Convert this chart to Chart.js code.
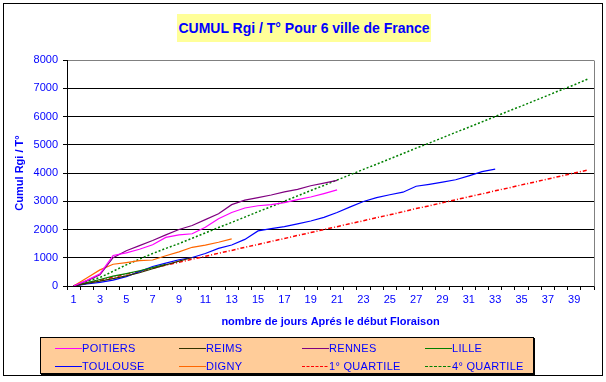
<!DOCTYPE html>
<html>
<head>
<meta charset="utf-8">
<script src="https://cdn.jsdelivr.net/npm/chart.js@4/dist/chart.umd.min.js"></script>
<style>
html,body{margin:0;padding:0;background:#fff;}
#wrap{position:relative;width:606px;height:382px;overflow:hidden;background:#fff;}
#frame{position:absolute;left:3px;top:3px;width:598px;height:371px;border:1px solid #000;}
#title{position:absolute;left:177px;top:14px;width:254px;height:28px;background:#FFFF99;color:#0000FF;
  font:bold 14px "Liberation Sans",Arial,sans-serif;text-align:center;line-height:28px;white-space:nowrap;}
#chart{position:absolute;left:0;top:0;}
#legend{position:absolute;left:40px;top:337px;width:492px;height:35px;background:#FFCC99;border:1px solid #000;box-shadow:1px 1px 0 #000;}
.li{position:absolute;height:14px;font:11px "Liberation Sans",Arial,sans-serif;color:#0000FF;line-height:14px;white-space:nowrap;letter-spacing:0.3px;}
.li svg{position:absolute;left:0;top:0;}
.li span{position:absolute;top:0;}
</style>
</head>
<body>
<div id="wrap">
  <div id="frame"></div>
  <div id="title">CUMUL Rgi / T° Pour 6 ville de France</div>
  <canvas id="chart" width="606" height="382"></canvas>
  <div id="legend"></div>
</div>
<script>
// ---- data ----
const days = ['1','2','3','4','5','6','7','8','9','10','11','12','13','14','15','16','17','18','19','20',
              '21','22','23','24','25','26','27','28','29','30','31','32','33','34','35','36','37','38','39','40'];
const yTicks = [0,1000,2000,3000,4000,5000,6000,7000,8000];

const poitiers = [0,200,430,1080,1170,1300,1460,1720,1810,1850,2080,2380,2600,2760,2840,2880,2950,3060,3150,3270,3400];
const reims    = [0,90,170,260,360,470,610,750,880,1010];
const rennes   = [0,180,400,1000,1250,1430,1610,1810,2000,2140,2350,2560,2880,3040,3130,3220,3330,3420,3550,3640,3740];
const lille    = [0,120,230,350,440,540,650,770];
const toulouse = [0,70,130,210,330,510,690,810,930,1010,1150,1330,1450,1650,1950,2030,2100,2200,2300,2430,
                  2600,2800,2990,3130,3230,3320,3530,3600,3680,3760,3900,4050,4140];
const digny    = [0,280,570,770,830,900,920,1070,1210,1370,1450,1550,1670];
const quartile1 = [0,100,200,310,420,520,630,740,840,950,1050,1160,1260,1370,1470,1580,1680,1790,1890,2000,
                   2100,2210,2310,2420,2520,2630,2740,2840,2950,3050,3160,3260,3370,3470,3580,3680,3790,3890,4000,4100];
const quartile4 = [0,170,300,520,750,950,1150,1330,1500,1690,1880,2070,2250,2440,2630,2810,3000,3190,3380,3560,
                   3750,3940,4130,4310,4500,4690,4880,5060,5250,5440,5620,5810,6000,6190,6370,6560,6750,6940,7120,7320];

const xTitle = 'nombre de jours Aprés le début Floraison';
const yTitle = 'Cumul Rgi / T°';

// ---- chart ----
Chart.defaults.font.family = '"Liberation Sans", Arial, sans-serif';
const FONT = {size: 11, family: '"Liberation Sans", Arial, sans-serif'};
const BFONT = {size: 11, weight: 'bold', family: '"Liberation Sans", Arial, sans-serif'};

const datasets = [
  {label:'POITIERS', data:poitiers, borderColor:'#FF00FF', borderWidth:1.2},
  {label:'REIMS', data:reims, borderColor:'#333300', borderWidth:1.2},
  {label:'RENNES', data:rennes, borderColor:'#800080', borderWidth:1.2},
  {label:'LILLE', data:lille, borderColor:'#008000', borderWidth:1.2},
  {label:'TOULOUSE', data:toulouse, borderColor:'#0000FF', borderWidth:1.2},
  {label:'DIGNY', data:digny, borderColor:'#FF6600', borderWidth:1.2},
  {label:'1° QUARTILE', data:quartile1, borderColor:'#FF0000', borderWidth:1.5, borderDash:[4,2,1,2]},
  {label:'4° QUARTILE', data:quartile4, borderColor:'#008000', borderWidth:1.5, borderDash:[2,2]}
];

const rightBorder = {
  id:'rightBorder',
  afterDraw(chart){
    const {ctx, chartArea:a} = chart;
    ctx.save();
    ctx.strokeStyle = '#808080';
    ctx.lineWidth = 1;
    ctx.beginPath();
    const x = Math.round(a.right) + 0.5;
    ctx.moveTo(x, Math.round(a.top)+0.5);
    ctx.lineTo(x, Math.round(a.bottom)+0.5);
    ctx.stroke();
    ctx.restore();
  }
};

new Chart(document.getElementById('chart'), {
  type:'line',
  data:{labels:days, datasets:datasets.map(d => Object.assign({fill:false, pointRadius:0, tension:0}, d))},
  options:{
    responsive:false, animation:false, devicePixelRatio:1,
    layout:{padding:{left:13, right:12, top:60, bottom:53.4}},
    plugins:{legend:{display:false}, title:{display:false}, tooltip:{enabled:false}},
    scales:{
      x:{
        type:'category', offset:true,
        grid:{offset:true, drawOnChartArea:false, drawTicks:true, tickLength:4, color:'#000', tickColor:'#000'},
        border:{color:'#000', width:1},
        ticks:{autoSkip:false, maxRotation:0, minRotation:0, color:'#0000FF', font:FONT, padding:3,
               callback:(v,i) => (i % 2 === 0 ? days[i] : '')},
        title:{display:true, text:xTitle, color:'#0000FF', font:BFONT, padding:0},
        afterFit:(s) => { s.height = 42.6; }
      },
      y:{
        min:yTicks[0], max:yTicks[yTicks.length-1],
        afterBuildTicks:(s) => { s.ticks = yTicks.map(v => ({value:v})); },
        ticks:{color:'#0000FF', font:FONT, padding:5, callback:(v) => String(v)},
        grid:{color:(c) => (c.tick && c.tick.value === 8000 ? '#808080' : '#000'), tickLength:4, drawTicks:true, tickColor:'#000'},
        border:{color:'#000', width:1},
        title:{display:true, text:yTitle, color:'#0000FF', font:BFONT, padding:0},
        afterFit:(s) => { s.width = 54; }
      }
    }
  },
  plugins:[rightBorder]
});

// ---- legend (HTML, from datasets) ----
const legend = document.getElementById('legend');
const colX = [14, 138, 261, 384];   // relative to legend box
const rowY = [3, 21];
datasets.forEach((d, i) => {
  const col = i % 4, row = Math.floor(i / 4);
  const el = document.createElement('div');
  el.className = 'li';
  el.style.left = colX[col] + 'px';
  el.style.top = rowY[row] + 'px';
  el.style.width = '120px';
  const dash = d.borderDash ? `stroke-dasharray="3,1.5"` : '';
  el.innerHTML = `<svg width="28" height="14"><line x1="0" y1="7.5" x2="27" y2="7.5" stroke="${d.borderColor}" stroke-width="1" ${dash}/></svg><span style="left:27px">${d.label}</span>`;
  legend.appendChild(el);
});
</script>
</body>
</html>
